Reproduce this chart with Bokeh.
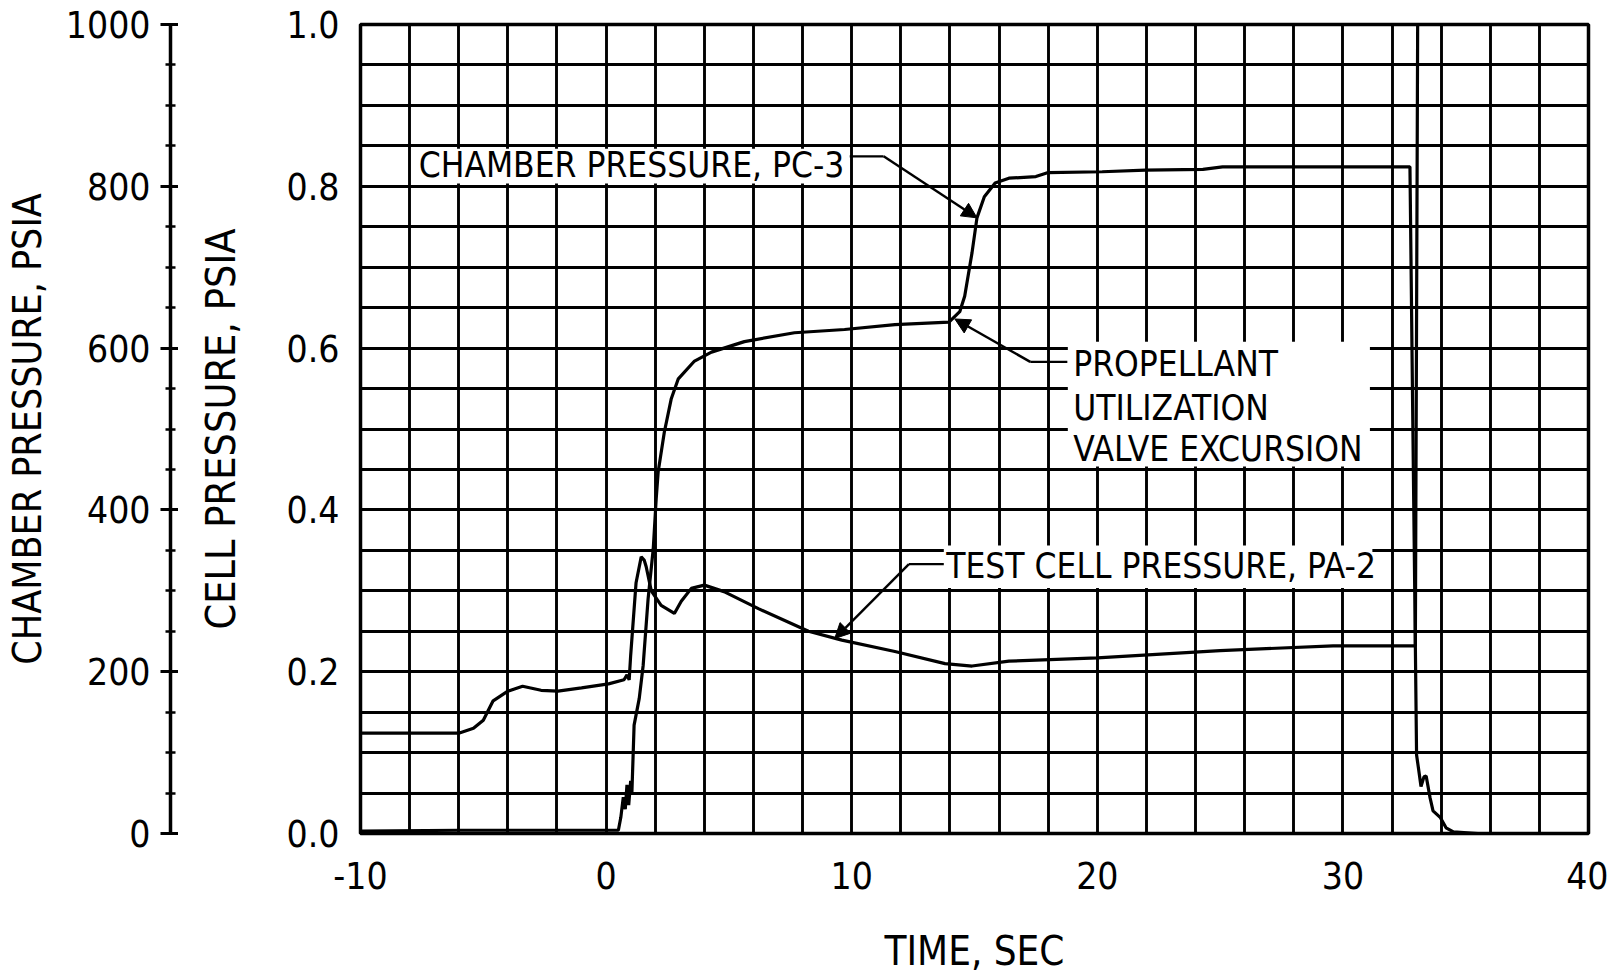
from bokeh.plotting import figure
from bokeh.layouts import row
from bokeh.models import (Range1d, SingleIntervalTicker, PrintfTickFormatter,
                          Label, Arrow, NormalHead)
from bokeh.embed import file_html
from bokeh.resources import INLINE

# ---------------- data ----------------
chamber_time = [-10, -6, -2, 0.5, 0.6, 0.7, 0.78, 0.85, 0.92, 1.0, 1.05, 1.14, 1.35, 1.51,
                1.71, 1.92, 2.04, 2.12, 2.37, 2.65, 2.94, 3.6, 4.29, 5.63, 7.67, 9.71, 11.76,
                13.96, 14.4, 14.6, 14.9, 15.1, 15.4, 15.84, 16.4, 17.5, 18.0, 20.2, 21.96,
                24.3, 25.1, 32.73, 32.85, 32.95, 33.0, 33.08, 33.18, 33.3, 33.39, 33.55,
                33.67, 33.96, 34.2, 34.5, 35.5, 40]
chamber_psia = [3, 4, 4, 4, 20, 45, 30, 60, 35, 65, 50, 134, 167, 208,
                290, 352, 414, 447, 496, 537, 562, 584, 595, 608, 619, 623, 629,
                632, 645, 664, 718, 761, 787, 804, 810, 812, 817, 818, 820,
                821, 824, 824, 500, 232, 97, 80, 58, 70, 71, 44,
                28, 20, 7, 2, 0, 0]

cell_time = [-10, -6.0, -5.4, -5.0, -4.6, -4.0, -3.4, -2.65, -1.96, -1.0,
             0.1, 0.73, 0.85, 0.94, 1.0, 1.22, 1.43, 1.55, 1.63, 1.84,
             2.24, 2.78, 3.06, 3.47, 4.0, 4.8, 6.2, 8.24, 9.6, 11.76,
             13.8, 14.9, 16.4, 20.0, 25.0, 29.6, 32.95, 33.05]
cell_psia = [0.124, 0.124, 0.13, 0.14, 0.164, 0.176, 0.182, 0.177, 0.176, 0.18,
             0.185, 0.19, 0.196, 0.19, 0.22, 0.31, 0.342, 0.338, 0.33, 0.30,
             0.282, 0.272, 0.287, 0.303, 0.307, 0.299, 0.278, 0.25, 0.239, 0.225,
             0.21, 0.207, 0.213, 0.217, 0.226, 0.232, 0.232, 1.05]

time_ticks = [-10, 0, 10, 20, 30, 40]
cell_ticks = [0.0, 0.2, 0.4, 0.6, 0.8, 1.0]
chamber_ticks = [0, 200, 400, 600, 800, 1000]

AX_FONT = "'DejaVu Sans Condensed', 'Liberation Sans Narrow', sans-serif"
ANN_FONT = "'DejaVu Sans Condensed', 'Liberation Sans Narrow', sans-serif"

H = 976
TOP, BOTTOM = 24, 140

# ---------------- left figure: chamber pressure axis ----------------
p1 = figure(width=178, height=H, x_range=Range1d(0, 1), y_range=Range1d(0, 1000),
            x_axis_location=None, toolbar_location=None, output_backend="svg",
            min_border_left=170, min_border_right=0, min_border_top=TOP,
            min_border_bottom=BOTTOM, outline_line_color=None)
p1.grid.visible = False
ax = p1.yaxis[0]
ax.ticker = SingleIntervalTicker(interval=200, num_minor_ticks=4)
ax.formatter = PrintfTickFormatter(format="%d")
ax.axis_line_width = 3.5
ax.major_tick_line_width = 3
ax.minor_tick_line_width = 2.5
ax.major_tick_in = 10
ax.major_tick_out = 10
ax.minor_tick_in = 5
ax.minor_tick_out = 5
ax.major_label_standoff = 10
ax.major_label_text_font = AX_FONT
ax.major_label_text_font_size = "37px"
ax.major_label_text_color = "black"
ax.axis_label = "CHAMBER PRESSURE, PSIA"
ax.axis_label_text_font = AX_FONT
ax.axis_label_text_font_size = "39px"
ax.axis_label_text_font_style = "normal"
ax.axis_label_text_color = "black"
ax.axis_label_standoff = 13

# ---------------- main figure ----------------
p2 = figure(width=1430, height=H, x_range=Range1d(-10, 40), y_range=Range1d(0, 1),
            toolbar_location=None, output_backend="svg",
            min_border_left=182, min_border_right=20, min_border_top=TOP,
            min_border_bottom=BOTTOM, outline_line_color="black", outline_line_width=3.5)
p2.extra_y_ranges = {"chamber": Range1d(0, 1000)}

p2.xgrid.ticker = SingleIntervalTicker(interval=2)
p2.ygrid.ticker = SingleIntervalTicker(interval=0.05)
for g in (p2.xgrid[0], p2.ygrid[0]):
    g.grid_line_color = "black"
    g.grid_line_width = 2.9
    g.grid_line_alpha = 1.0

xa = p2.xaxis[0]
xa.ticker = time_ticks
xa.formatter = PrintfTickFormatter(format="%d")
xa.axis_line_color = None
xa.major_tick_in = 0
xa.major_tick_out = 0
xa.minor_tick_in = 0
xa.minor_tick_out = 0
xa.major_label_standoff = 28
xa.major_label_text_font = AX_FONT
xa.major_label_text_font_size = "37px"
xa.major_label_text_color = "black"
xa.axis_label = "TIME, SEC"
xa.axis_label_text_font = AX_FONT
xa.axis_label_text_font_size = "40px"
xa.axis_label_text_font_style = "normal"
xa.axis_label_text_color = "black"
xa.axis_label_standoff = 36

ya = p2.yaxis[0]
ya.ticker = cell_ticks
ya.formatter = PrintfTickFormatter(format="%.1f")
ya.axis_line_color = None
ya.major_tick_in = 0
ya.major_tick_out = 0
ya.minor_tick_in = 0
ya.minor_tick_out = 0
ya.major_label_standoff = 21
ya.major_label_text_font = AX_FONT
ya.major_label_text_font_size = "37px"
ya.major_label_text_color = "black"
ya.axis_label = "CELL PRESSURE, PSIA"
ya.axis_label_text_font = AX_FONT
ya.axis_label_text_font_size = "41px"
ya.axis_label_text_font_style = "normal"
ya.axis_label_text_color = "black"
ya.axis_label_standoff = 39

# white cut-outs behind the annotation texts
p2.quad(left=[-7.93, 18.8, 13.75], right=[9.93, 31.1, 31.2],
        bottom=[0.8035, 0.4535, 0.3035], top=[0.8465, 0.608, 0.356],
        fill_color="white", line_color=None)

# curves
p2.line(cell_time, cell_psia, line_color="black", line_width=3.2)
p2.line(chamber_time, chamber_psia, y_range_name="chamber", line_color="black", line_width=3.2)

# annotations
def leader(x0, y0, x1, y1, x2, y2):
    p2.line([x0, x1], [y0, y1], line_color="black", line_width=2.4)
    p2.add_layout(Arrow(end=NormalHead(size=15, fill_color="black", line_color="black"),
                        x_start=x1, y_start=y1, x_end=x2, y_end=y2,
                        line_color="black", line_width=2.4))

leader(9.92, 0.837, 11.3, 0.837, 15.1, 0.761)
leader(18.78, 0.583, 17.27, 0.583, 14.2, 0.636)
leader(13.75, 0.333, 12.33, 0.333, 9.31, 0.241)

def label(x, y, text):
    p2.add_layout(Label(x=x, y=y, text=text, text_font=ANN_FONT, text_font_size="35px",
                        text_color="black", text_align="left", text_baseline="middle"))

label(-7.63, 0.826, "CHAMBER PRESSURE, PC-3")
label(19.02, 0.580, "PROPELLANT")
label(19.02, 0.526, "UTILIZATION")
label(19.02, 0.475, "VALVE EXCURSION")
label(13.85, 0.331, "TEST CELL PRESSURE, PA-2")

layout = row(p1, p2)
open("out.html", "w").write(file_html(layout, INLINE))
